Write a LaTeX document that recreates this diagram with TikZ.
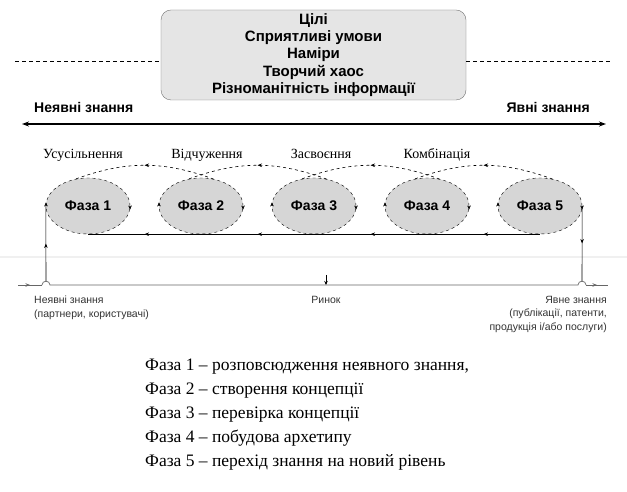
\documentclass[tikz,border=0pt]{standalone}
\usepackage{fontspec}
\setmainfont{Liberation Serif}
\newfontfamily\arialf{Liberation Sans}
\usetikzlibrary{arrows.meta,shapes.geometric,decorations.markings}

\tikzset{
  midarrow/.style={postaction={decorate,decoration={markings,
      mark=at position #1 with {\arrow{Stealth[length=4.5pt,width=3.5pt]}}}}},
  midarrow/.default=0.5,
  phase/.style={ellipse,draw,dashed,fill=black!16,minimum width=84pt,minimum height=56pt,
    inner sep=0pt,font=\arialf\bfseries\fontsize{14}{16}\selectfont,
    postaction={decorate,decoration={markings,
      mark=at position 0.002 with {\arrow{Stealth[length=4pt,width=3.5pt,reversed]}},
      mark=at position 0.502 with {\arrow{Stealth[length=4pt,width=3.5pt,reversed]}}}}},
  cyclearc/.style={dashed,out=160,in=20,midarrow},
  dashline/.style={dashed,dash pattern=on 4pt off 3pt,line width=0.9pt},
  mktline/.style={black!60,line width=0.7pt},
  smalltxt/.style={font=\arialf\fontsize{10.5}{13.5}\selectfont,text=black!80,inner sep=0pt},
  modetxt/.style={font=\fontsize{14}{16}\selectfont,inner sep=0pt,anchor=base}
}

\begin{document}
\begin{tikzpicture}[x=1pt,y=1pt]
  \useasboundingbox[fill=white] (0,0) rectangle (627,492);

  % top box and axis
  \node[draw=black!55,fill=black!10,rounded corners=10pt,minimum width=305pt,minimum height=90pt,
    inner sep=1pt,align=center,font=\arialf\bfseries\fontsize{15}{17.3}\selectfont] (goals) at (313.5,437)
    {Цілі\\Сприятливі умови\\Наміри\\Творчий хаос\\Різноманітність інформації};
  \draw[dashline] (15,431) -- (goals.west |- 0,431);
  \draw[dashline] (goals.east |- 0,431) -- (612,431);

  \node[font=\arialf\bfseries\fontsize{14}{16}\selectfont,anchor=west,inner sep=0pt] (tacitlbl) at (34,384) {Неявні знання};
  \node[font=\arialf\bfseries\fontsize{14}{16}\selectfont,anchor=east,inner sep=0pt] (explicitlbl) at (590,384) {Явні знання};
  \coordinate (axisL) at (22,368);
  \coordinate (axisR) at (606,368);
  \draw[{Stealth[length=7pt,width=5pt]}-{Stealth[length=7pt,width=5pt]},line width=1.3pt] (axisL) -- (axisR);

  % phases
  \node[phase] (p1) at (88,286) {Фаза 1};
  \node[phase] (p2) at (201,286) {Фаза 2};
  \node[phase] (p3) at (314,286) {Фаза 3};
  \node[phase] (p4) at (427,286) {Фаза 4};
  \node[phase] (p5) at (540,286) {Фаза 5};

  \node[modetxt] (soc) at (83,333) {Усусільнення};
  \node[modetxt] (ext) at (207,333) {Відчуження};
  \node[modetxt] (int) at (321,333) {Засвоєння};
  \node[modetxt] (comb) at (437,333) {Комбінація};

  \begin{scope}[line width=0.6pt]
    \draw[cyclearc] (p2.65) to (p1.115);
    \draw[cyclearc] (p3.65) to (p2.115);
    \draw[cyclearc] (p4.65) to (p3.115);
    \draw[cyclearc] (p5.65) to (p4.115);
    \draw[midarrow] (p5.south) -- (p4.south);
    \draw[midarrow] (p4.south) -- (p3.south);
    \draw[midarrow] (p3.south) -- (p2.south);
    \draw[midarrow] (p2.south) -- (p1.south);
  \end{scope}

  \draw[black!6,line width=1.5pt] (0,235) -- (627,235);

  % market
  \coordinate (mkL) at (18,207);
  \coordinate (hopL) at (46,211);
  \coordinate (hopR) at (582,211);
  \coordinate (mkR) at (608,207);
  \coordinate (mkC) at (326,207);
  \draw[mktline,midarrow] (mkL) -- (42,207);
  \draw[mktline] (42,207) .. controls (42,212) and (50,212) .. (50,207)
    -- (578,207) .. controls (578,212) and (586,212) .. (586,207);
  \draw[mktline,midarrow] (586,207) -- (mkR);
  \draw[line width=0.6pt,midarrow] (hopL) -- (p1.west);
  \draw[line width=0.6pt,midarrow] (p5.east) -- (hopR);
  \draw[line width=0.6pt,-{Stealth[length=4pt,width=3.5pt]}] (326,217) -- (mkC);

  \node[smalltxt,align=left,anchor=north west] (partners) at (34,196) {Неявні знання\\(партнери, користувачі)};
  \node[smalltxt,anchor=north] (market) at (326,196) {Ринок};
  \node[smalltxt,align=right,anchor=north east] (products) at (607,196) {Явне знання\\(публікації, патенти,\\продукція і/або послуги)};

  % legend
  \begin{scope}[font=\fontsize{17.5}{20}\selectfont]
    \node[anchor=base west,inner sep=0pt] (f1) at (145,121) {Фаза 1 – розповсюдження неявного знання,};
    \node[anchor=base west,inner sep=0pt] (f2) at (145,97) {Фаза 2 – створення концепції};
    \node[anchor=base west,inner sep=0pt] (f3) at (145,73) {Фаза 3 – перевірка концепції};
    \node[anchor=base west,inner sep=0pt] (f4) at (145,49) {Фаза 4 – побудова архетипу};
    \node[anchor=base west,inner sep=0pt] (f5) at (145,25) {Фаза 5 – перехід знання на новий рівень};
  \end{scope}
\end{tikzpicture}
\end{document}
